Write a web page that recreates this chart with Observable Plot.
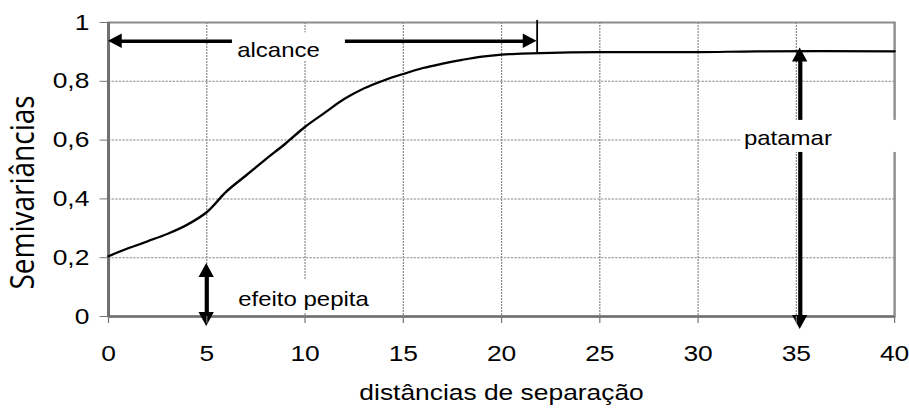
<!DOCTYPE html>
<html><head><meta charset="utf-8">
<script src="https://cdn.jsdelivr.net/npm/d3@7"></script>
<script src="https://cdn.jsdelivr.net/npm/@observablehq/plot@0.6"></script>
<style>body{margin:0;background:#fff} #chart svg{display:block}</style>
</head><body><div id="chart"></div>
<script>
// ---- data ----
const distances =     [0,    1,    2,    3,    4,    5,    6,    7,   8,    9,    10,   11,   12,  13,   14,   15,   16,   17,   18,   19,   20,   21,   22,   25,   30,   33,   40];
const semivariances = [0.205,0.232,0.256,0.281,0.312,0.355,0.425,0.48,0.535,0.588,0.645,0.693,0.74,0.776,0.803,0.825,0.845,0.86,0.873,0.884,0.891,0.894,0.896,0.899,0.899,0.902,0.902];

const xTicks = [0, 5, 10, 15, 20, 25, 30, 35, 40];
const yTicks = [0, 0.2, 0.4, 0.6, 0.8, 1];
const yTickLabels = ["0", "0,2", "0,4", "0,6", "0,8", "1"];

const xTitle = "distâncias de separação";
const yTitle = "Semivariâncias";

// annotation labels
const labelTexts = ["alcance", "efeito pepita", "patamar"];
const labelX = [8.65, 9.92, 34.57];
const labelY = [0.906, 0.059, 0.606];
// white boxes behind labels
const boxX1 = [6.31, 6.3, 32.16];
const boxX2 = [12.06, 14.3, 40.4];
const boxY1 = [0.87, 0.01, 0.558];
const boxY2 = [0.965, 0.123, 0.667];

// arrow shafts (vertical ones: top value first, bottom value second)
const hArrowY = [0.936], hArrowX1 = [0], hArrowX2 = [21.81];
const vArrowX = [5, 35.2], vArrowTop = [0.18, 0.913], vArrowBottom = [-0.034, -0.044];
// range tick
const rangeX = [21.81], rangeY1 = [0.891], rangeY2 = [1.007];
// arrow heads (tip positions)
const headX =   [0,      21.81,   5,    5,      35.2,  35.2];
const headY =   [0.936,  0.936,   0.18, -0.034, 0.913, -0.044];
const headDir = ["left", "right", "up", "down", "up",  "down"];

// ---- build ----
const W = 758, H = 408, OUTW = 909;
const curve = distances.map((d, i) => ({x: d, y: semivariances[i]}));
const labels = labelTexts.map((t, i) => ({t, x: labelX[i], y: labelY[i]}));
const boxes = boxX1.map((x1, i) => ({x1, x2: boxX2[i], y1: boxY1[i], y2: boxY2[i]}));
const hArrows = hArrowY.map((y, i) => ({y, x1: hArrowX1[i], x2: hArrowX2[i]}));
const vArrows = vArrowX.map((x, i) => ({x, top: vArrowTop[i], bottom: vArrowBottom[i]}));
const ranges = rangeX.map((x, i) => ({x, y1: rangeY1[i], y2: rangeY2[i]}));
const heads = headX.map((x, i) => ({x, y: headY[i], dir: headDir[i]}));
const rot = {up: 0, right: 90, down: 180, left: 270};
const headShape = {up: [14, 6.4], down: [14, 6.4], left: [11.5, 7.2], right: [11.5, 7.2]};

// custom mark: filled triangular arrow heads, positioned through Plot's scales
function arrowHeads(index, scales) {
  const g = d3.create("svg:g").attr("aria-label", "arrow-heads");
  for (const h of heads) {
    const [len, hw] = headShape[h.dir];
    g.append("path")
      .attr("d", `M0,0L${-hw},${len}L${hw},${len}Z`)
      .attr("transform", `translate(${scales.x(h.x)},${scales.y(h.y)}) rotate(${rot[h.dir]})`)
      .attr("fill", "black");
  }
  return g.node();
}
const sans = "'Liberation Sans', Arial, sans-serif";

const chart = Plot.plot({
  width: W, height: H,
  marginLeft: 90, marginRight: 12.5, marginTop: 22, marginBottom: 92,
  x: {domain: [0, 40], axis: null},
  y: {domain: [0, 1], axis: null},
  style: {fontFamily: sans, fontSize: "22px", background: "white", color: "black", overflow: "visible"},
  marks: [
    Plot.gridX(xTicks.slice(1, -1), {stroke: "#8a8a8a", strokeOpacity: 1, strokeWidth: 1, strokeDasharray: "2,1"}),
    Plot.gridY(yTicks.slice(1, -1), {stroke: "#8a8a8a", strokeOpacity: 1, strokeWidth: 1, strokeDasharray: "2,1"}),
    Plot.frame({stroke: "#8c8c8c", strokeWidth: 2}),
    Plot.ruleX([0], {stroke: "#707070", strokeWidth: 2.5}),
    Plot.ruleY([0], {stroke: "#707070", strokeWidth: 2.5}),
    Plot.line(curve, {x: "x", y: "y", curve: "catmull-rom", stroke: "black", strokeWidth: 2.2}),
    Plot.ruleY(hArrows, {y: "y", x1: "x1", x2: "x2", stroke: "black", strokeWidth: 3.5, insetLeft: 9, insetRight: 9}),
    Plot.ruleX(vArrows, {x: "x", y1: "top", y2: "bottom", stroke: "black", strokeWidth: 3.5, insetTop: 10, insetBottom: 10}),
    Plot.ruleX(ranges, {x: "x", y1: "y1", y2: "y2", stroke: "black", strokeWidth: 1.5}),
    Plot.rect(boxes, {x1: "x1", x2: "x2", y1: "y1", y2: "y2", fill: "white"}),
    arrowHeads,
    Plot.text(labels, {x: "x", y: "y", text: "t", fontSize: 20, fontFamily: sans, fill: "black", textAnchor: "middle", lineAnchor: "middle"}),
    Plot.axisX(xTicks, {tickSize: 7, tickPadding: 22, fontSize: 22, stroke: "#777", fill: "black", label: null, tickFormat: d => String(d)}),
    Plot.axisY(yTicks, {tickSize: 7, tickPadding: 9, fontSize: 22, stroke: "#777", fill: "black", label: null, tickFormat: d => yTickLabels[yTicks.indexOf(d)]}),
    Plot.text([xTitle], {frameAnchor: "bottom", dy: 76, fontSize: 22, fontFamily: sans, fill: "black", textAnchor: "middle", lineAnchor: "middle"}),
    Plot.text([yTitle], {frameAnchor: "left", dx: -71, dy: 23, rotate: -90, fontSize: 28, fontFamily: "'Open Sans', 'Noto Sans', sans-serif", fill: "black", textAnchor: "middle", lineAnchor: "middle", letterSpacing: "0.8px"})
  ]
});

// The reference image is stretched horizontally; stretch the SVG to the window width.
chart.setAttribute("width", OUTW);
chart.setAttribute("height", H);
chart.setAttribute("viewBox", `0 0 ${W} ${H}`);
chart.setAttribute("preserveAspectRatio", "none");
chart.style.width = OUTW + "px";
chart.style.height = H + "px";
chart.style.maxWidth = "none";
document.getElementById("chart").appendChild(chart);
</script>
</body></html>
